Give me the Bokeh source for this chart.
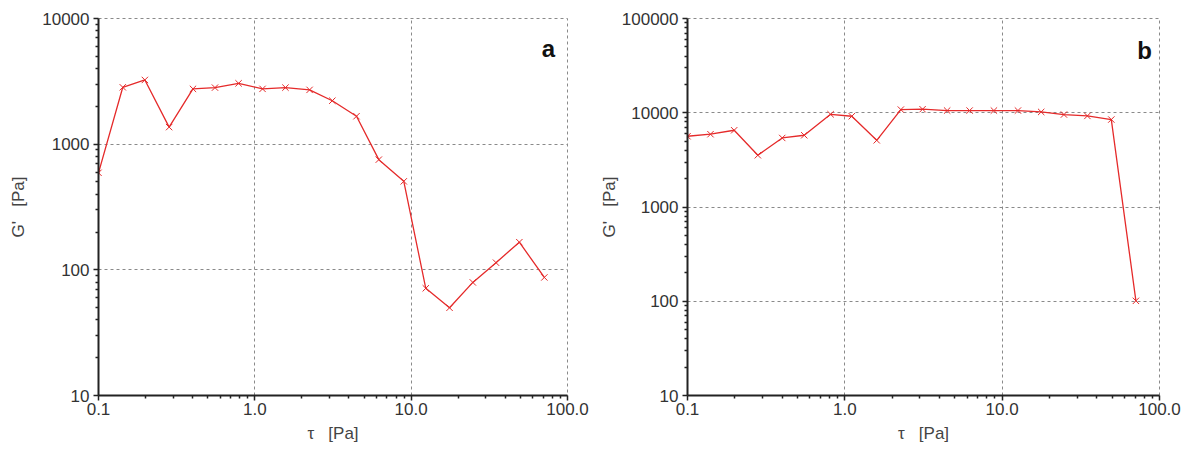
from bokeh.plotting import figure
from bokeh.layouts import row
from bokeh.models import Range1d, FixedTicker, CustomJSTickFormatter, Label
from bokeh.embed import file_html
from bokeh.resources import INLINE

# ---- data ----
tau_a = [0.1, 0.143, 0.198, 0.283, 0.402, 0.556, 0.787, 1.12, 1.57, 2.24,
         3.13, 4.47, 6.21, 8.97, 12.4, 17.6, 24.8, 34.9, 49.2, 71.1]
g_a = [592, 2835, 3243, 1367, 2754, 2818, 3048, 2754, 2818, 2704,
       2217, 1668, 753, 506, 71.3, 49.9, 79.4, 114, 166, 87]

tau_b = [0.1, 0.140, 0.198, 0.28, 0.40, 0.552, 0.812, 1.107, 1.595, 2.27,
         3.12, 4.47, 6.21, 8.86, 12.6, 17.7, 24.7, 34.8, 49.4, 70.8]
g_b = [5630, 5920, 6520, 3540, 5400, 5770, 9630, 9180, 5100, 10800,
       10900, 10550, 10550, 10550, 10550, 10200, 9570, 9250, 8470, 101]

x_major = [0.1, 1, 10, 100]
y_major_a = [10, 100, 1000, 10000]
y_major_b = [10, 100, 1000, 10000, 100000]
panel_labels = ["a", "b"]

RED = "#e52a2a"
FONT = "Liberation Sans"
H = 450


def minors(majors):
    out = []
    for m in majors[:-1]:
        out += [m * k for k in range(2, 10)]
    return out


def make(tau, g, y_major, label, w, bl, br, bt, bb, ylab_standoff, lab_x, lab_top):
    p = figure(width=w, height=H, x_axis_type="log", y_axis_type="log",
               x_range=Range1d(x_major[0], x_major[-1]),
               y_range=Range1d(y_major[0], y_major[-1]),
               output_backend="svg", toolbar_location=None,
               min_border_left=bl, min_border_right=br,
               min_border_top=bt, min_border_bottom=bb)
    p.outline_line_color = "#8a8a8a"
    p.outline_line_dash = "3 3"
    p.outline_line_width = 1
    p.background_fill_color = "white"

    xt = FixedTicker(ticks=x_major, minor_ticks=minors(x_major))
    yt = FixedTicker(ticks=y_major, minor_ticks=minors(y_major))
    p.xaxis.ticker = xt
    p.yaxis.ticker = yt
    p.xgrid.ticker = FixedTicker(ticks=x_major)
    p.ygrid.ticker = FixedTicker(ticks=y_major)
    p.xaxis.formatter = CustomJSTickFormatter(code="return tick.toFixed(1);")
    p.yaxis.formatter = CustomJSTickFormatter(code="return tick.toFixed(0);")

    for gr in (p.xgrid, p.ygrid):
        gr.grid_line_color = "#8a8a8a"
        gr.grid_line_dash = "3 3"
        gr.grid_line_width = 1

    for ax in (p.xaxis, p.yaxis):
        ax.axis_line_color = "#222222"
        ax.axis_line_width = 2
        ax.major_tick_line_color = "#222222"
        ax.minor_tick_line_color = "#222222"
        ax.major_tick_line_width = 1.5
        ax.minor_tick_line_width = 1.5
        ax.major_tick_out = 5
        ax.major_tick_in = 0
        ax.minor_tick_out = 3
        ax.minor_tick_in = 0
        ax.major_label_text_font = FONT
        ax.major_label_text_font_size = "17px"
        ax.major_label_text_color = "#333333"
        ax.axis_label_text_font = FONT
        ax.axis_label_text_font_size = "17px"
        ax.axis_label_text_font_style = "normal"
        ax.axis_label_text_color = "#444444"

    p.xaxis.major_label_standoff = 2
    p.yaxis.major_label_standoff = 4
    p.xaxis.axis_label = "\u03c4\u00a0\u00a0 [Pa]"
    p.yaxis.axis_label = "G'\u00a0\u00a0 [Pa]"
    p.xaxis.axis_label_standoff = 6
    p.yaxis.axis_label_standoff = ylab_standoff

    p.line(tau, g, line_color=RED, line_width=1.3)
    p.scatter(tau, g, marker="x", size=9, line_color=RED, line_width=1)

    frame_h = H - bt - bb
    p.add_layout(Label(x=lab_x, y=frame_h - lab_top, x_units="screen",
                       y_units="screen", text=label, text_font=FONT,
                       text_font_size="24px", text_font_style="bold",
                       text_color="#111111", text_align="center",
                       text_baseline="alphabetic"))
    return p


p1 = make(tau_a, g_a, y_major_a, panel_labels[0], 596, 98, 29, 16, 53, 11, 450, 34)
p2 = make(tau_b, g_b, y_major_b, panel_labels[1], 596, 89, 33, 18, 55, 0, 457, 32)

layout = row(p1, p2)
open("out.html", "w").write(file_html(layout, INLINE))
